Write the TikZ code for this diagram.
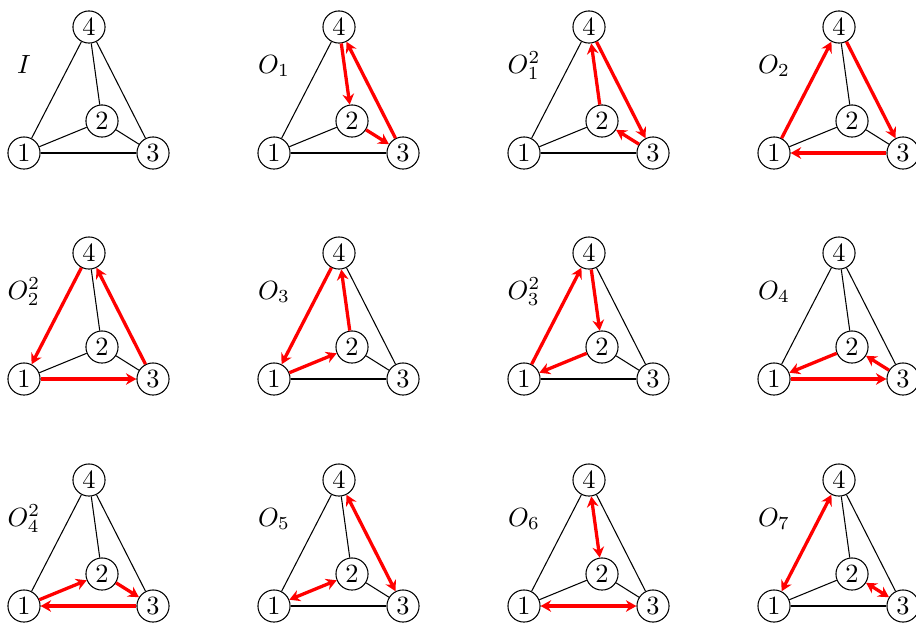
\documentclass[tikz,border=0pt]{standalone}
\usetikzlibrary{arrows.meta}
\tikzset{
  vtx/.style={draw, circle, minimum size=12.2pt, inner sep=0pt, line width=0.4pt, fill=white},
  lbl/.style={anchor=base, inner sep=0pt},
  edge/.style={line width=0.4pt, black},
  redarrow/.style={red, line width=1.25pt, -{Stealth[length=4pt, width=4.4pt, inset=1.3pt]}},
  redboth/.style={red, line width=1.25pt, {Stealth[length=4pt, width=4.4pt, inset=1.3pt]}-{Stealth[length=4pt, width=4.4pt, inset=1.3pt]}},
}
\newcommand{\tetra}[5]{%
  \begin{scope}[shift={#2}]
    \node[vtx] (#1-1) at (24,153) {1};
    \node[vtx] (#1-2) at (102,121) {2};
    \node[vtx] (#1-3) at (153,153) {3};
    \node[vtx] (#1-4) at (89,27) {4};
    \node[lbl] (#1-l) at (24,73) {$#3$};
  \end{scope}
  \foreach \a/\b in {#4} \draw[edge] (#1-\a) -- (#1-\b);
  #5}
\begin{document}
\begin{tikzpicture}[x=0.38pt, y=-0.38pt]
\useasboundingbox (0,0) rectangle (916,623);
% row 1
\tetra{A}{(0,0)}{I}{1/2,1/3,1/4,2/3,2/4,3/4}{}
\tetra{B}{(250,0)}{O_1}{1/2,1/3,1/4}{%
  \draw[redarrow] (B-4) -- (B-2);
  \draw[redarrow] (B-2) -- (B-3);
  \draw[redarrow] (B-3) -- (B-4);}
\tetra{C}{(500,0)}{O_1^2}{1/2,1/3,1/4}{%
  \draw[redarrow] (C-2) -- (C-4);
  \draw[redarrow] (C-4) -- (C-3);
  \draw[redarrow] (C-3) -- (C-2);}
\tetra{D}{(750,0)}{O_2}{1/2,2/3,2/4}{%
  \draw[redarrow] (D-1) -- (D-4);
  \draw[redarrow] (D-4) -- (D-3);
  \draw[redarrow] (D-3) -- (D-1);}
% row 2
\tetra{E}{(0,226)}{O_2^2}{1/2,2/3,2/4}{%
  \draw[redarrow] (E-4) -- (E-1);
  \draw[redarrow] (E-1) -- (E-3);
  \draw[redarrow] (E-3) -- (E-4);}
\tetra{F}{(250,226)}{O_3}{1/3,2/3,3/4}{%
  \draw[redarrow] (F-4) -- (F-1);
  \draw[redarrow] (F-1) -- (F-2);
  \draw[redarrow] (F-2) -- (F-4);}
\tetra{G}{(500,226)}{O_3^2}{1/3,2/3,3/4}{%
  \draw[redarrow] (G-1) -- (G-4);
  \draw[redarrow] (G-4) -- (G-2);
  \draw[redarrow] (G-2) -- (G-1);}
\tetra{H}{(750,226)}{O_4}{1/4,2/4,3/4}{%
  \draw[redarrow] (H-2) -- (H-1);
  \draw[redarrow] (H-1) -- (H-3);
  \draw[redarrow] (H-3) -- (H-2);}
% row 3
\tetra{J}{(0,453)}{O_4^2}{1/4,2/4,3/4}{%
  \draw[redarrow] (J-1) -- (J-2);
  \draw[redarrow] (J-2) -- (J-3);
  \draw[redarrow] (J-3) -- (J-1);}
\tetra{K}{(250,453)}{O_5}{1/3,1/4,2/3,2/4}{%
  \draw[redboth] (K-1) -- (K-2);
  \draw[redboth] (K-4) -- (K-3);}
\tetra{L}{(500,453)}{O_6}{1/2,1/4,2/3,3/4}{%
  \draw[redboth] (L-4) -- (L-2);
  \draw[redboth] (L-1) -- (L-3);}
\tetra{M}{(750,453)}{O_7}{1/2,1/3,2/4,3/4}{%
  \draw[redboth] (M-1) -- (M-4);
  \draw[redboth] (M-2) -- (M-3);}
\end{tikzpicture}
\end{document}
